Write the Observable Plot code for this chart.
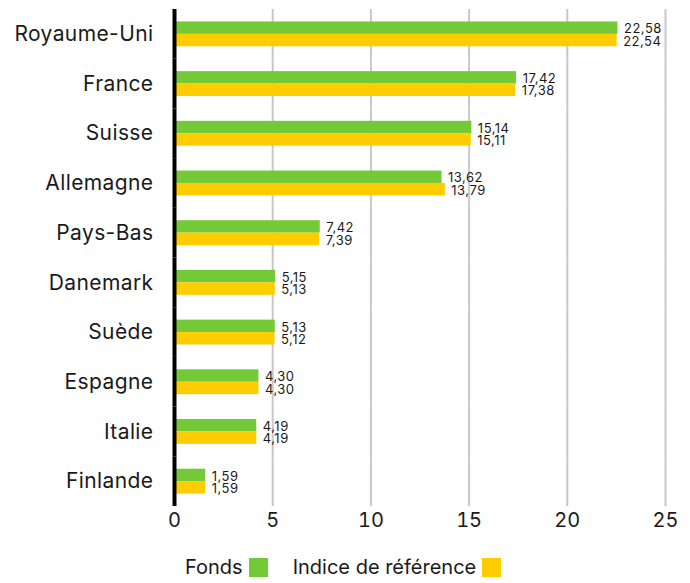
<!DOCTYPE html>
<html><head><meta charset="utf-8">
<script src="https://cdn.jsdelivr.net/npm/d3@7"></script>
<script src="https://cdn.jsdelivr.net/npm/@observablehq/plot@0.6"></script>
<style>
body{margin:0;background:#fff;font-family:Inter,"Noto Sans",sans-serif;}
#chart svg{display:block;}
#legend{height:48px;display:flex;align-items:center;font-size:20px;color:#1a1a1a;padding-left:185px;box-sizing:border-box;position:relative;top:8px;}
.sw{display:inline-block;width:19px;height:19px;margin-left:6px;margin-right:25px;}
</style></head><body>
<div id="chart"></div>
<div id="legend"></div>
<script>
const countries = ["Royaume-Uni","France","Suisse","Allemagne","Pays-Bas","Danemark","Suède","Espagne","Italie","Finlande"];
const fonds = [22.58,17.42,15.14,13.62,7.42,5.15,5.13,4.30,4.19,1.59];
const indice = [22.54,17.38,15.11,13.79,7.39,5.13,5.12,4.30,4.19,1.59];
const series = ["Fonds","Indice de référence"];
const colors = ["#74c936","#ffcc00"];
const xTicks = [0,5,10,15,20,25];

const rows = [];
countries.forEach((c,i)=>{
  rows.push({country:c, series:series[0], value:fonds[i]});
  rows.push({country:c, series:series[1], value:indice[i]});
});
const fmt = v => v.toFixed(2).replace(".", ",");

const chart = Plot.plot({
  width: 690,
  height: 535,
  marginLeft: 174,
  marginRight: 25,
  marginTop: 9,
  marginBottom: 29,
  style: {fontSize: "20px", fontFamily: "Inter, 'Noto Sans', sans-serif", color: "#1a1a1a", background: "#fff"},
  facet: {data: rows, y: "country"},
  fy: {domain: countries, padding: 0, round: false, axis: "left", label: null, tickSize: 0, tickPadding: 21},
  y: {domain: series, paddingInner: 0, paddingOuter: 1, round: false, axis: null},
  x: {domain: [0,25], ticks: xTicks, tickSize: 0, tickPadding: 6, label: null, tickFormat: d => String(d)},
  color: {domain: series, range: colors},
  marks: [
    Plot.ruleX(xTicks.slice(1), {stroke: "#c8c8c8", strokeWidth: 2}),
    Plot.barX(rows, {x: "value", y: "series", fill: "series"}),
    Plot.text(rows, {x: "value", y: "series", text: d => fmt(d.value), textAnchor: "start", dx: 6, dy: 1, fontSize: 13, fill: "#1a1a1a", style: "letter-spacing:0.5px"}),
    Plot.ruleX([0], {stroke: "#000", strokeWidth: 4})
  ]
});
chart.querySelectorAll("g[aria-label='fy-axis'] text, g[aria-label='fy-axis tick label'] text").forEach(t => {
  t.style.fontSize = "21px";
  t.style.letterSpacing = "0.4px";
});
chart.querySelectorAll("g[aria-label='text'] text").forEach(t => { t.style.letterSpacing = "0.5px"; });
document.getElementById("chart").appendChild(chart);

const lg = document.getElementById("legend");
series.forEach((s,i)=>{
  const t = document.createElement("span"); t.textContent = s; lg.appendChild(t);
  const sw = document.createElement("span"); sw.className = "sw"; sw.style.background = colors[i]; lg.appendChild(sw);
});
</script>
</body></html>
